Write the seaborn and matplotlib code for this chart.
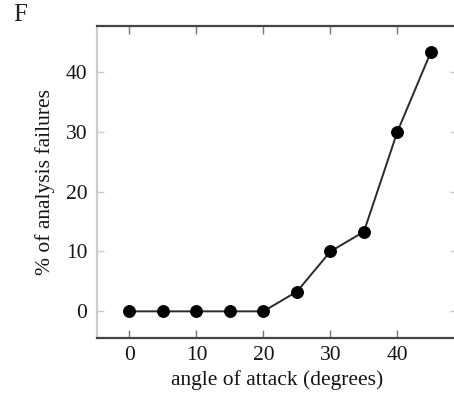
import numpy as np
import pandas as pd
import matplotlib
matplotlib.use("Agg")
import matplotlib.pyplot as plt
import seaborn as sns

# --- DANE ---------------------------------------------------------------------

angle = [0, 5, 10, 15, 20, 25, 30, 35, 40, 45]
failures = [0.0, 0.0, 0.0, 0.0, 0.0, 3.3, 10.0, 13.3, 30.0, 43.3]
x_ticks = [0, 10, 20, 30, 40]
y_ticks = [0, 10, 20, 30, 40]

df = pd.DataFrame({"angle": angle, "failures": failures})

# --- WYKRES -------------------------------------------------------------------

sns.set_style("ticks")
plt.rcParams["font.family"] = ["Liberation Serif", "DejaVu Serif"]

fig = plt.figure(figsize=(4.54, 3.96), dpi=100)
ax = fig.add_axes([97 / 454, 1 - 337.7 / 396, 360 / 454, 312 / 396])

sns.lineplot(data=df, x="angle", y="failures", ax=ax,
             color="#2a2a2a", linewidth=1.4,
             marker="o", markersize=8.5, markerfacecolor="black",
             markeredgecolor="black")

ax.set_xlim(-4.85, 48.9)
ax.set_ylim(-4.4, 47.7)
ax.set_xticks(x_ticks)
ax.set_yticks(y_ticks)

ax.set_xlabel("angle of attack (degrees)", fontsize=15.5, color="#151515",
              labelpad=4)
ax.set_ylabel("% of analysis failures", fontsize=15.5, color="#151515",
              labelpad=8)

for s in ["top", "bottom"]:
    ax.spines[s].set_visible(True)
    ax.spines[s].set_color("#444444")
    ax.spines[s].set_linewidth(1.6)
ax.spines["left"].set_color("#cccccc")
ax.spines["left"].set_linewidth(1.6)
ax.spines["right"].set_visible(False)

ax.tick_params(axis="x", direction="in", top=True, bottom=True,
               length=6, width=1, color="#777777",
               labelsize=15.5, labelcolor="#151515", pad=6)
ax.tick_params(axis="y", direction="in", left=True, right=True,
               length=5, width=1, color="#cccccc",
               labelsize=15.5, labelcolor="#151515", pad=7)

fig.text(13 / 454, 1 - 21 / 396, "F", fontsize=18, color="#222222",
         va="baseline", ha="left")

fig.savefig("out.png", dpi=100)
plt.close(fig)
